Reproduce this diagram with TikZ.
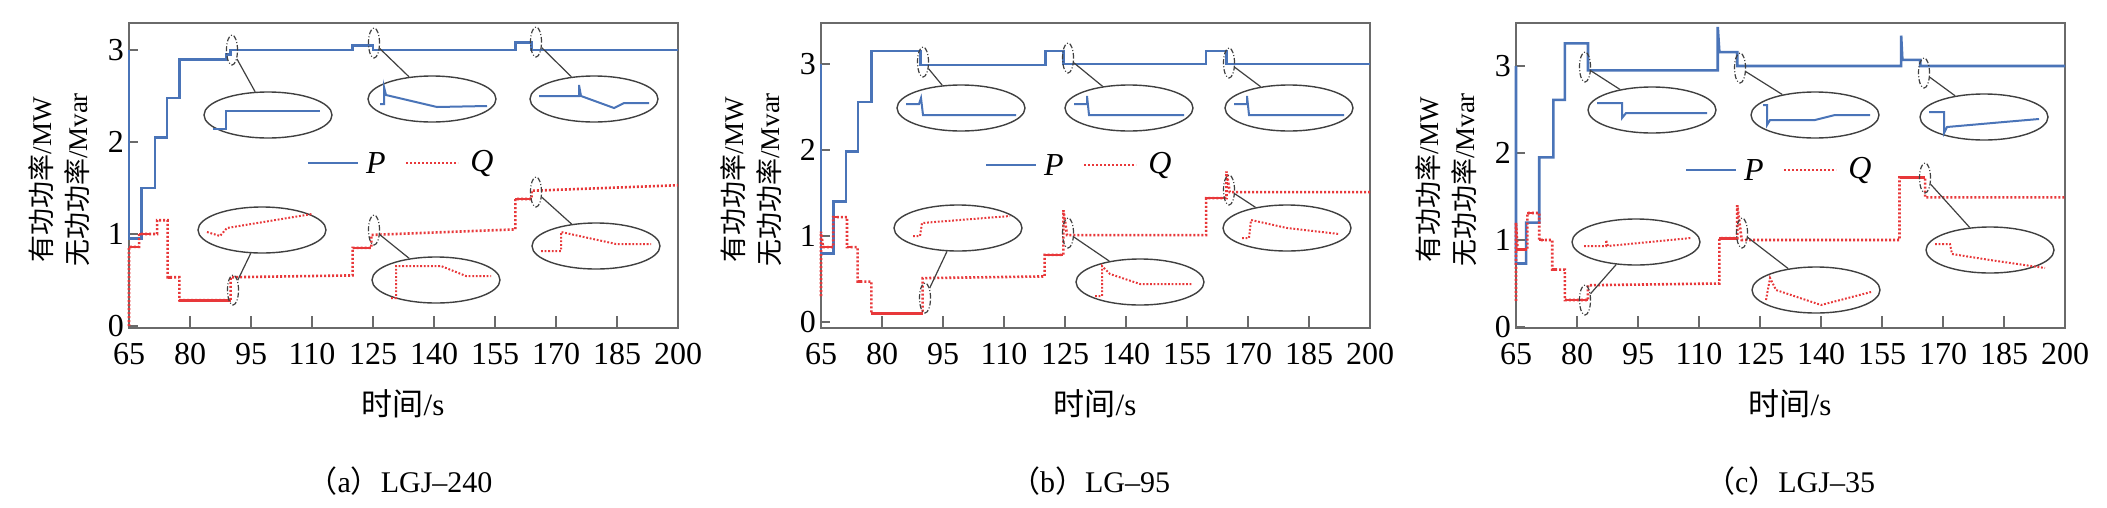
\documentclass[tikz,border=0pt]{standalone}
\usepackage{fontspec}
\setmainfont{Liberation Serif}
\newfontfamily\cjk{Noto Sans CJK SC}
\usetikzlibrary{shapes.geometric}
\definecolor{pblue}{HTML}{4A74B8}
\definecolor{qred}{HTML}{E8383A}
\definecolor{axgray}{HTML}{6A6A6A}
\tikzset{
 axis/.style={draw=axgray,line width=1.8pt},
 tick/.style={font=\fontsize{32}{34}\selectfont,inner sep=0pt},
 pl/.style={draw=pblue,line width=2.6pt},
 ql/.style={draw=qred,line width=2.6pt,dash pattern=on 2pt off 2pt},
 qs/.style={draw=qred,line width=2.6pt},
 big/.style={ellipse,draw=black!75,line width=1.4pt,minimum width=128pt,minimum height=46pt,inner sep=0pt},
 zm/.style={ellipse,draw=black!75,line width=1.2pt,dash pattern=on 5pt off 2pt on 1pt off 2pt,minimum width=11pt,minimum height=30pt,inner sep=0pt},
 con/.style={draw=black!75,line width=1.2pt},
 ipl/.style={draw=pblue,line width=2pt},
 iql/.style={draw=qred,line width=2pt,dash pattern=on 1.8pt off 1.8pt},
 ylab/.style={rotate=90,align=center,font=\fontsize{27}{36}\selectfont,inner sep=0pt},
 lab/.style={font=\fontsize{31}{34}\selectfont,inner sep=0pt},
}
\newcommand\myaxes[4]{%
 \draw[axis] (#1,23) rectangle ({#1+549},328);
 \foreach \tv [count=\i] in {65,80,...,200} {
   \pgfmathsetmacro\xx{#1+(\tv-65)*4.0667}
   \draw[axis] (\xx,328) -- (\xx,316);
   \node[tick] (xt#4\i) at (\xx,354) {\tv};}
 \foreach \vv in {0,1,2,3} {
   \pgfmathsetmacro\yy{#2-\vv*#3}
   \draw[axis] (#1,\yy) -- ({#1+9},\yy);
   \node[tick,anchor=east] (yt#4\vv) at ({#1-5},\yy) {\vv};}
 \node[ylab] (yl#4) at ({#1-70},180) {{\cjk 有功功率}/MW\\{\cjk 无功功率}/Mvar};
 \node[lab] (xl#4) at ({#1+274},404) {{\cjk 时间}/s};
}
\newcommand\leg[5]{%
 \draw[pl] (#2,#1) coordinate (la#5) -- ({#2+50},#1) coordinate (lb#5);
 \node[lab,font=\fontsize{32}{34}\selectfont\itshape] (lP#5) at ({#2+68},#1) {P};
 \draw[ql] (#3,#1) coordinate (lc#5) -- ({#3+52},#1) coordinate (ld#5);
 \node[lab,font=\fontsize{32}{34}\selectfont\itshape] (lQ#5) at ({#3+76},#1) {Q};
}
\begin{document}
\begin{tikzpicture}[x=1pt,y=-1pt]
\useasboundingbox[fill=white] (0,0) rectangle (2107,507);

%%%%%%%%%%%%%%%% (a)
\myaxes{129}{326}{92}{a}
\begin{scope}[shift={(129,326)},x=4.0667pt,y=92pt,xshift=-264.33pt]
 \draw[pl] (65,3)--(65,0.95)--(68,0.95)--(68,1.5)--(71.4,1.5)--(71.4,2.05)--(74.3,2.05)--(74.3,2.48)--(77.4,2.48)--(77.4,2.9)--(89,2.9)--(89,2.95)--(90,2.95)--(90,3.0)--(120,3.0)--(120,3.05)--(125,3.05)--(125,3.0)--(160,3.0)--(160,3.08)--(164,3.08)--(164,3.0)--(200,3.0);
 \draw[ql] (65,0)--(65,0.86)--(67.5,0.86)--(67.5,1.0)--(71.9,1.0)--(71.9,1.15)--(74.5,1.15)--(74.5,0.53)--(77.4,0.53)--(77.4,0.28)--(90,0.28)--(90,0.53)--(120,0.55)--(120,0.85)--(124.6,0.85)--(124.6,0.99)--(160,1.05)--(160,1.38)--(164,1.38)--(164,1.47)--(200,1.53);
 \draw[qs] (65,0.86)--(67.5,0.86) (67.5,1.0)--(70,1.0) (74.5,0.53)--(75.5,0.53) (77.4,0.28)--(90,0.28) (120,0.85)--(124.6,0.85) (160,1.38)--(164,1.38);
\end{scope}
\leg{163}{308}{406}{}{a}
\node[zm] (ma1) at (232,50) {};
\node[zm] (ma2) at (374,43) {};
\node[zm] (ma3) at (536,42) {};
\node[zm] (ma4) at (233,290) {};
\node[zm] (ma5) at (374,230) {};
\node[zm] (ma6) at (536,192) {};
\node[big] (ea1) at (268,115) {};
\node[big] (ea2) at (432,99) {};
\node[big] (ea3) at (594,99) {};
\node[big] (ea4) at (262,230) {};
\node[big] (ea5) at (436,280) {};
\node[big] (ea6) at (596,246) {};
\foreach \k in {1,...,6} {\draw[con] (ma\k) -- (ea\k);}
\begin{scope}[shift={(ea1)}] \draw[ipl] (-55,14)--(-42,14)--(-42,-4)--(52,-4); \end{scope}
\begin{scope}[shift={(ea2)}] \draw[ipl] (-52,5)--(-48,5)--(-48,-12)--(-46,-4)--(5,8)--(55,7); \end{scope}
\begin{scope}[shift={(ea3)}] \draw[ipl] (-55,-3)--(-15,-3)--(-15,-14)--(-13,-3)--(20,9)--(30,4)--(55,4); \end{scope}
\begin{scope}[shift={(ea4)}] \draw[iql] (-55,2)--(-42,6)--(-35,-2)--(50,-16); \end{scope}
\begin{scope}[shift={(ea5)}] \draw[iql] (-45,18)--(-40,18)--(-40,-14)--(5,-14)--(30,-4)--(55,-4); \end{scope}
\begin{scope}[shift={(ea6)}] \draw[iql] (-55,5)--(-35,5)--(-35,-14)--(20,-2)--(55,-2); \end{scope}

%%%%%%%%%%%%%%%% (b)
\myaxes{821}{322}{86}{b}
\begin{scope}[shift={(821,322)},x=4.0667pt,y=86pt,xshift=-264.33pt]
 \draw[pl] (65,3)--(65,0.8)--(68.1,0.8)--(68.1,1.4)--(71.1,1.4)--(71.1,1.98)--(74.1,1.98)--(74.1,2.56)--(77.4,2.56)--(77.4,3.15)--(89.5,3.15)--(89.5,2.99)--(120.2,2.99)--(120.2,3.15)--(124.6,3.15)--(124.6,3.0)--(159.7,3.0)--(159.7,3.15)--(164.7,3.15)--(164.7,3.0)--(200,3.0);
 \draw[ql] (65,0.3)--(65,1.05)--(65.5,0.87)--(68,0.87)--(68,1.22)--(71.4,1.22)--(71.4,0.87)--(74,0.87)--(74,0.47)--(77.4,0.47)--(77.4,0.1)--(90,0.1)--(90,0.51)--(120,0.53)--(120,0.78)--(124.6,0.78)--(124.6,1.3)--(125.5,1.01)--(159.7,1.01)--(159.7,1.44)--(164.7,1.44)--(164.7,1.75)--(165.5,1.51)--(200,1.51);
 \draw[qs] (65,0.87)--(68,0.87) (68,1.22)--(69.5,1.22) (71.4,0.87)--(72.5,0.87) (74,0.47)--(75,0.47) (77.4,0.1)--(90,0.1) (120,0.78)--(124.6,0.78) (159.7,1.44)--(164.7,1.44);
\end{scope}
\leg{165}{986}{1084}{}{b}
\node[zm] (mb1) at (923,62) {};
\node[zm] (mb2) at (1068,58) {};
\node[zm] (mb3) at (1229,63) {};
\node[zm] (mb4) at (925,298) {};
\node[zm] (mb5) at (1068,233) {};
\node[zm] (mb6) at (1229,190) {};
\node[big] (eb1) at (961,108) {};
\node[big] (eb2) at (1129,108) {};
\node[big] (eb3) at (1289,108) {};
\node[big] (eb4) at (958,228) {};
\node[big] (eb5) at (1140,282) {};
\node[big] (eb6) at (1287,228) {};
\foreach \k in {1,...,6} {\draw[con] (mb\k) -- (eb\k);}
\begin{scope}[shift={(eb1)}] \draw[ipl] (-55,-4)--(-42,-4)--(-40,-10)--(-38,7)--(55,7); \end{scope}
\begin{scope}[shift={(eb2)}] \draw[ipl] (-55,-4)--(-42,-4)--(-42,-12)--(-40,7)--(55,7); \end{scope}
\begin{scope}[shift={(eb3)}] \draw[ipl] (-55,-4)--(-42,-4)--(-42,-12)--(-40,7)--(55,7); \end{scope}
\begin{scope}[shift={(eb4)}] \draw[iql] (-45,8)--(-38,8)--(-36,-5)--(52,-12); \end{scope}
\begin{scope}[shift={(eb5)}] \draw[iql] (-45,14)--(-38,14)--(-38,-16)--(-30,-8)--(0,2)--(52,2); \end{scope}
\begin{scope}[shift={(eb6)}] \draw[iql] (-45,10)--(-38,10)--(-36,-8)--(0,0)--(52,6); \end{scope}

%%%%%%%%%%%%%%%% (c)
\myaxes{1516}{327}{87}{c}
\begin{scope}[shift={(1516,327)},x=4.0667pt,y=87pt,xshift=-264.33pt]
 \draw[pl] (65,3)--(65,0.73)--(67.5,0.73)--(67.5,1.2)--(70.7,1.2)--(70.7,1.95)--(74.2,1.95)--(74.2,2.61)--(77,2.61)--(77,3.26)--(82.7,3.26)--(82.7,2.95)--(114.6,2.95)--(114.6,3.45)--(115,3.16)--(119.4,3.16)--(119.4,3.0)--(159.7,3.0)--(159.7,3.35)--(160,3.07)--(164.4,3.07)--(164.4,3.0)--(200,3.0);
 \draw[ql] (65,0.3)--(65,1.2)--(65.4,0.89)--(67.8,0.89)--(67.8,1.31)--(70.7,1.31)--(70.7,1.0)--(73.9,1.0)--(73.9,0.66)--(77,0.66)--(77,0.31)--(82.7,0.31)--(82.7,0.48)--(115,0.5)--(115,1.02)--(119.4,1.02)--(119.4,1.4)--(120.5,1.0)--(159.3,1.0)--(159.3,1.72)--(165.6,1.72)--(165.6,1.49)--(200,1.49);
 \draw[qs] (65,0.89)--(67.8,0.89) (67.8,1.31)--(69,1.31) (70.7,1.0)--(72,1.0) (73.9,0.66)--(75,0.66) (77,0.31)--(82.7,0.31) (115,1.02)--(119.4,1.02) (159.3,1.72)--(165.6,1.72);
\end{scope}
\leg{170}{1686}{1784}{}{c}
\node[zm] (mc1) at (1585,67) {};
\node[zm] (mc2) at (1740,68) {};
\node[zm] (mc3) at (1924,73) {};
\node[zm] (mc4) at (1585,300) {};
\node[zm] (mc5) at (1742,233) {};
\node[zm] (mc6) at (1925,178) {};
\node[big] (ec1) at (1652,110) {};
\node[big] (ec2) at (1815,115) {};
\node[big] (ec3) at (1984,117) {};
\node[big] (ec4) at (1636,242) {};
\node[big] (ec5) at (1816,290) {};
\node[big] (ec6) at (1990,250) {};
\foreach \k in {1,...,6} {\draw[con] (mc\k) -- (ec\k);}
\begin{scope}[shift={(ec1)}] \draw[ipl] (-55,-7)--(-30,-7)--(-30,8)--(-26,3)--(55,3); \end{scope}
\begin{scope}[shift={(ec2)}] \draw[ipl] (-52,-10)--(-48,-10)--(-48,10)--(-45,5)--(0,5)--(20,0)--(55,0); \end{scope}
\begin{scope}[shift={(ec3)}] \draw[ipl] (-55,-5)--(-40,-5)--(-40,16)--(-37,10)--(20,5)--(55,2); \end{scope}
\begin{scope}[shift={(ec4)}] \draw[iql] (-52,4)--(-30,4)--(-30,-2)--(-28,4)--(55,-4); \end{scope}
\begin{scope}[shift={(ec5)}] \draw[iql] (-50,10)--(-46,-12)--(-40,0)--(5,15)--(55,2); \end{scope}
\begin{scope}[shift={(ec6)}] \draw[iql] (-55,-6)--(-40,-6)--(-38,4)--(0,10)--(55,18); \end{scope}

%%%%%%%% captions
\node[lab,font=\fontsize{30}{34}\selectfont] (capa) at (400,481) {{\cjk （}a{\cjk ）}LGJ–240};
\node[lab,font=\fontsize{30}{34}\selectfont] (capb) at (1090,481) {{\cjk （}b{\cjk ）}LG–95};
\node[lab,font=\fontsize{30}{34}\selectfont] (capc) at (1790,481) {{\cjk （}c{\cjk ）}LGJ–35};
\end{tikzpicture}
\end{document}
